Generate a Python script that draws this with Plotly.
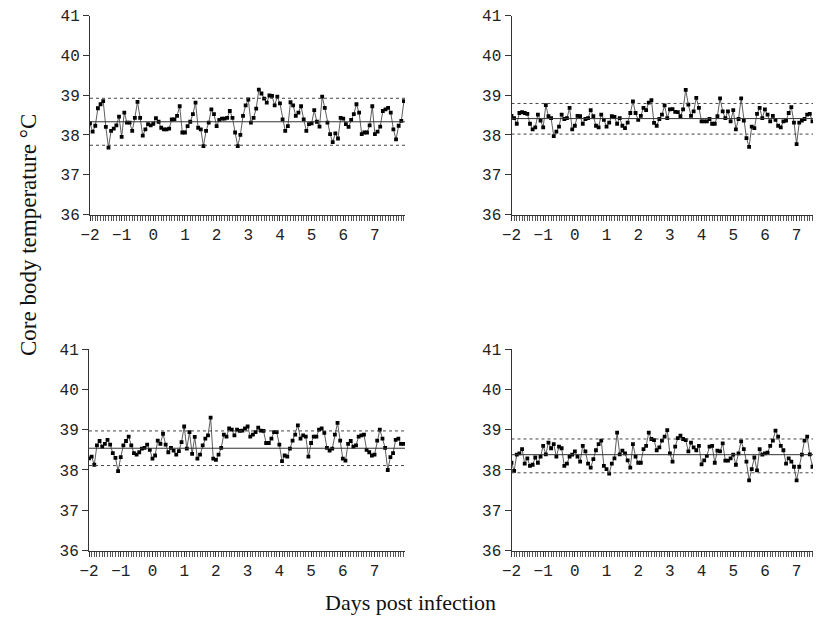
import numpy as np
import plotly.graph_objects as go

# time axis: days post infection, one reading every 2 hours
days = [-2 + i / 12 for i in range(120)]

temp_a = [38.29, 38.08, 38.23, 38.67, 38.77, 38.85, 38.20, 37.68, 38.10, 38.16, 38.24, 38.46,
          37.95, 38.56, 38.31, 38.31, 38.10, 38.43, 38.83, 38.43, 37.98, 38.14, 38.27, 38.24,
          38.28, 38.42, 38.33, 38.18, 38.14, 38.14, 38.16, 38.39, 38.39, 38.48, 38.72, 38.06,
          38.06, 38.22, 38.33, 38.52, 38.81, 38.18, 38.14, 37.72, 38.10, 38.31, 38.64, 38.52,
          38.22, 38.38, 38.41, 38.41, 38.43, 38.60, 38.43, 38.06, 37.72, 38.00, 38.48, 38.74,
          38.89, 38.31, 38.43, 38.66, 39.14, 39.04, 38.91, 38.81, 38.99, 38.98, 38.74, 38.96,
          38.79, 38.39, 38.10, 38.22, 38.82, 38.74, 38.48, 38.56, 38.72, 38.39, 38.10, 38.27,
          38.29, 38.62, 38.33, 38.21, 38.96, 38.68, 38.31, 38.02, 37.82, 38.04, 37.91, 38.43,
          38.41, 38.27, 38.20, 38.38, 38.52, 38.77, 38.56, 38.02, 38.06, 38.06, 38.24, 38.72,
          38.02, 38.08, 38.21, 38.60, 38.64, 38.68, 38.56, 38.14, 37.89, 38.23, 38.35, 38.85]

temp_b = [38.48, 38.42, 38.28, 38.55, 38.57, 38.55, 38.53, 38.28, 38.14, 38.19, 38.51, 38.36,
          38.19, 38.75, 38.47, 38.42, 37.97, 38.08, 38.21, 38.51, 38.40, 38.42, 38.68, 38.14,
          38.23, 38.48, 38.47, 38.28, 38.40, 38.42, 38.62, 38.47, 38.23, 38.19, 38.51, 38.38,
          38.21, 38.31, 38.47, 38.45, 38.28, 38.42, 38.23, 38.17, 38.31, 38.55, 38.84, 38.55,
          38.38, 38.48, 38.68, 38.62, 38.81, 38.87, 38.30, 38.23, 38.40, 38.51, 38.74, 38.42,
          38.64, 38.65, 38.58, 38.57, 38.47, 38.64, 39.13, 38.76, 38.48, 38.59, 38.93, 38.68,
          38.34, 38.34, 38.34, 38.40, 38.28, 38.28, 38.47, 38.92, 38.59, 38.42, 38.59, 38.34,
          38.62, 38.14, 38.40, 38.92, 38.36, 37.92, 37.70, 38.21, 38.17, 38.53, 38.68, 38.42,
          38.64, 38.51, 38.34, 38.48, 38.38, 38.23, 38.19, 38.34, 38.36, 38.55, 38.70, 38.31,
          37.77, 38.31, 38.36, 38.40, 38.51, 38.53, 38.34, 38.30, 38.20, 38.40, 38.30, 38.10]

temp_c = [38.29, 38.33, 38.13, 38.61, 38.72, 38.58, 38.65, 38.75, 38.63, 38.42, 38.30, 37.97,
          38.32, 38.61, 38.72, 38.83, 38.61, 38.42, 38.38, 38.44, 38.53, 38.55, 38.63, 38.50,
          38.28, 38.36, 38.73, 38.65, 38.90, 38.63, 38.44, 38.55, 38.48, 38.38, 38.47, 38.69,
          39.08, 38.53, 38.94, 38.40, 38.82, 38.28, 38.38, 38.61, 38.78, 38.86, 39.30, 38.28,
          38.25, 38.38, 38.55, 38.88, 38.83, 39.03, 39.00, 38.86, 39.00, 38.97, 38.98, 39.03,
          39.08, 38.83, 38.88, 38.94, 39.05, 38.98, 38.97, 38.67, 38.67, 38.78, 38.94, 38.94,
          38.63, 38.22, 38.36, 38.33, 38.53, 38.73, 38.88, 39.11, 38.78, 38.86, 38.83, 38.33,
          38.67, 38.83, 38.83, 39.00, 39.03, 38.92, 38.55, 38.48, 38.53, 38.88, 39.17, 38.73,
          38.28, 38.23, 38.65, 38.72, 38.58, 38.61, 38.83, 38.86, 38.88, 38.50, 38.44, 38.36,
          38.38, 38.73, 39.00, 38.78, 38.55, 38.00, 38.32, 38.42, 38.75, 38.78, 38.65, 38.65]

temp_d = [38.18, 37.98, 38.38, 38.41, 38.52, 38.16, 38.29, 38.10, 38.13, 38.31, 38.18, 38.33,
          38.60, 38.39, 38.68, 38.54, 38.64, 38.33, 38.58, 38.54, 38.10, 38.16, 38.33, 38.38,
          38.46, 38.33, 38.21, 38.60, 38.46, 38.16, 38.06, 38.27, 38.49, 38.64, 38.73, 38.10,
          38.02, 37.91, 38.16, 38.29, 38.93, 38.39, 38.48, 38.41, 38.24, 38.06, 38.64, 38.33,
          38.18, 38.18, 38.52, 38.60, 38.93, 38.77, 38.74, 38.49, 38.56, 38.73, 38.83, 38.99,
          38.41, 38.21, 38.58, 38.79, 38.85, 38.77, 38.74, 38.46, 38.68, 38.56, 38.49, 38.60,
          38.14, 38.24, 38.35, 38.58, 38.60, 38.18, 38.48, 38.46, 38.66, 38.23, 38.23, 38.29,
          38.38, 38.13, 38.41, 38.71, 38.52, 38.21, 37.74, 38.02, 38.31, 37.99, 38.52, 38.38,
          38.41, 38.43, 38.60, 38.73, 38.98, 38.83, 38.60, 38.49, 38.16, 38.29, 38.21, 38.08,
          37.74, 38.08, 38.38, 38.73, 38.83, 38.39, 38.08, 38.38, 38.30, 38.40, 38.20, 38.35]

series = [temp_a, temp_b, temp_c, temp_d]
# reference lines per panel: mean, upper and lower limits
means = [38.33, 38.41, 38.54, 38.38]
uppers = [38.92, 38.79, 38.97, 38.77]
lowers = [37.74, 38.02, 38.11, 37.93]

x_ticks = [-2, -1, 0, 1, 2, 3, 4, 5, 6, 7]
y_ticks = [36, 37, 38, 39, 40, 41]

# the page body adds an 8px margin; the figure fills the rest of the window
OFF = 8
W, H = 821 - OFF, 619 - OFF
# panel placement in window pixels: (left, right, top(41), bottom(36), x max)
panels = [
    (90, 405, 15.5, 214.5, 7.95),
    (511.5, 821, 15.5, 214.5, 7.77),
    (89, 405, 349.2, 550.5, 7.96),
    (511.5, 821, 349.2, 550.5, 7.77),
]


def px(v):
    return (v - OFF) / W


def py(v):
    return (H - (v - OFF)) / H


fig = go.Figure()
tick_font = dict(family="Liberation Mono", size=16, color="#222")
for k, (l, r, t, b, xmax) in enumerate(panels):
    n = "" if k == 0 else str(k + 1)
    xa, ya = "x" + n, "y" + n
    fig.add_trace(go.Scatter(
        x=days, y=series[k], mode="lines+markers", xaxis=xa, yaxis=ya,
        line=dict(color="#333", width=0.8),
        marker=dict(symbol="square", size=3.8, color="black"),
        showlegend=False, hoverinfo="skip"))
    for val, dash, col in [(means[k], "solid", "#333"), (uppers[k], "dot", "#444"),
                           (lowers[k], "dot", "#444")]:
        fig.add_trace(go.Scatter(
            x=[-2, xmax], y=[val, val], mode="lines", xaxis=xa, yaxis=ya,
            line=dict(color=col, width=1, dash=dash),
            showlegend=False, hoverinfo="skip"))
    fig.layout["xaxis" + n] = dict(
        domain=[px(l), min(px(r), 1.0)], range=[-2, xmax], anchor=ya, automargin=False,
        tickvals=x_ticks, ticks="outside", ticklen=5, tickcolor="#333",
        showline=True, linecolor="#333", linewidth=1, showgrid=False, zeroline=False,
        tickfont=tick_font,
        minor=dict(dtick=1 / 12, tick0=-2, ticks="outside", ticklen=5,
                   tickcolor="#555", tickwidth=0.8, showgrid=False))
    fig.layout["yaxis" + n] = dict(
        domain=[py(b), py(t)], range=[36, 41], anchor=xa, automargin=False,
        tickvals=y_ticks, ticks="outside", ticklen=6, tickcolor="#333",
        showline=True, linecolor="#333", linewidth=1, showgrid=False, zeroline=False,
        tickfont=tick_font)

fig.add_annotation(text="Days post infection", x=px(410), y=py(602),
                   xref="paper", yref="paper", showarrow=False,
                   xanchor="center", yanchor="middle",
                   font=dict(family="Liberation Serif", size=22, color="#111"))
fig.add_annotation(text="Core body temperature °C", x=px(28), y=py(235),
                   xref="paper", yref="paper", showarrow=False, textangle=-90,
                   xanchor="center", yanchor="middle",
                   font=dict(family="Liberation Serif", size=23, color="#111"))

fig.update_layout(width=W, height=H, margin=dict(l=0, r=0, t=0, b=0, autoexpand=False),
                  plot_bgcolor="white", paper_bgcolor="white")
fig.write_html("out.html")
